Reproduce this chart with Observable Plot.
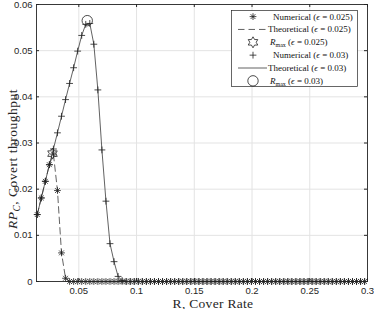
<!DOCTYPE html>
<html><head><meta charset="utf-8">
<script src="https://cdn.jsdelivr.net/npm/d3@7"></script>
<script src="https://cdn.jsdelivr.net/npm/@observablehq/plot@0.6"></script>
<style>body{margin:0;background:#fff} #chart{position:relative;width:374px;height:309px}</style>
</head><body><div id="chart"></div>
<script>
// Cover rate grid (x)
const R = [
 0.014,0.0175,0.021,0.0245,0.028,0.0315,0.035,0.0385,0.042,0.0455,
 0.049,0.0525,0.056,0.0595,0.063,0.0665,0.07,0.0735,0.077,0.0805,
 0.084,0.0875,0.091,0.0945,0.098,0.1015,0.105,0.1085,0.112,0.1155,
 0.119,0.1225,0.126,0.1295,0.133,0.1365,0.14,0.1435,0.147,0.1505,
 0.154,0.1575,0.161,0.1645,0.168,0.1715,0.175,0.1785,0.182,0.1855,
 0.189,0.1925,0.196,0.1995,0.203,0.2065,0.21,0.2135,0.217,0.2205,
 0.224,0.2275,0.231,0.2345,0.238,0.2415,0.245,0.2485,0.252,0.2555,
 0.259,0.2625,0.266,0.2695,0.273,0.2765,0.28,0.2835,0.287,0.2905,
 0.294,0.2975];
// RPc, eps = 0.025
const rpc025 = [
 0.0145,0.0181,0.0217,0.0253,0.0276,0.0197,0.0062,0.0007,
 0,0,0,0,0,0,0,0,0,0,
 0,0,0,0,0,0,0,0,0,0,
 0,0,0,0,0,0,0,0,0,0,
 0,0,0,0,0,0,0,0,0,0,
 0,0,0,0,0,0,0,0,0,0,
 0,0,0,0,0,0,0,0,0,0,
 0,0,0,0,0,0,0,0,0,0,
 0,0,0,0];
// RPc, eps = 0.03
const rpc03 = [
 0.0145,0.0181,0.0217,0.0253,0.0287,0.0322,0.0358,0.0394,0.0429,0.0463,
 0.0499,0.0533,0.0557,0.0559,0.0514,0.0415,0.0285,0.0174,0.0082,0.0043,
 0.0011,0.0002,
 0,0,0,0,0,0,0,0,0,0,
 0,0,0,0,0,0,0,0,0,0,
 0,0,0,0,0,0,0,0,0,0,
 0,0,0,0,0,0,0,0,0,0,
 0,0,0,0,0,0,0,0,0,0,
 0,0,0,0,0,0,0,0,0,0];
// Maximum points
const rmaxR = [0.0272, 0.0573];
const rmaxV = [0.0277, 0.0565];

const xTicks = [0.05, 0.1, 0.15, 0.2, 0.25, 0.3];
const xTickLabels = ["0.05", "0.1", "0.15", "0.2", "0.25", "0.3"];
const yTicks = [0, 0.01, 0.02, 0.03, 0.04, 0.05, 0.06];
const yTickLabels = ["0", "0.01", "0.02", "0.03", "0.04", "0.05", "0.06"];
const xDomain = [0.01335, 0.3];
const yDomain = [0, 0.06];

const d025 = R.map((r, i) => ({R: r, v: rpc025[i]}));
const d03 = R.map((r, i) => ({R: r, v: rpc03[i]}));
const m025 = [{R: rmaxR[0], v: rmaxV[0]}];
const m03 = [{R: rmaxR[1], v: rmaxV[1]}];

const asterisk8 = {draw(ctx, size) {
  const r = Math.sqrt(size / Math.PI), d = r * Math.SQRT1_2;
  ctx.moveTo(-r, 0); ctx.lineTo(r, 0); ctx.moveTo(0, -r); ctx.lineTo(0, r);
  ctx.moveTo(-d, -d); ctx.lineTo(d, d); ctx.moveTo(-d, d); ctx.lineTo(d, -d);
}};
const plusSym = {draw(ctx, size) {
  const r = Math.sqrt(size / Math.PI);
  ctx.moveTo(-r, 0); ctx.lineTo(r, 0); ctx.moveTo(0, -r); ctx.lineTo(0, r);
}};
const hexagram = {draw(ctx, size) {
  const r = Math.sqrt(size / Math.PI), ri = r / Math.sqrt(3);
  for (let k = 0; k < 12; k++) {
    const a = -Math.PI / 2 + k * Math.PI / 6, rr = k % 2 ? ri : r;
    const x = rr * Math.cos(a), y = rr * Math.sin(a);
    k ? ctx.lineTo(x, y) : ctx.moveTo(x, y);
  }
  ctx.closePath();
}};

const ink = "#1f1f1f";
const lineInk = "#3a3a3a";
const grid = "#e3e3e3";

const plot = Plot.plot({
  width: 374, height: 309,
  marginLeft: 36, marginRight: 7, marginTop: 4, marginBottom: 28,
  style: {fontFamily: "'Liberation Sans', Arial, sans-serif", fontSize: "9.5px", color: "#262626", background: "white"},
  x: {domain: xDomain},
  y: {domain: yDomain},
  marks: [
    Plot.gridX(xTicks, {stroke: grid, strokeOpacity: 1}),
    Plot.gridY(yTicks, {stroke: grid, strokeOpacity: 1}),
    Plot.axisX(xTicks, {tickSize: 0, tickPadding: 6, tickFormat: d => xTickLabels[xTicks.indexOf(d)], label: null}),
    Plot.axisY(yTicks, {tickSize: 0, tickPadding: 4, tickFormat: d => yTickLabels[yTicks.indexOf(d)], label: null}),
    Plot.tickX(xTicks, {x: d => d, insetTop: 274, stroke: "#262626"}),
    Plot.tickX(xTicks, {x: d => d, insetBottom: 274, stroke: "#262626"}),
    Plot.tickY(yTicks, {y: d => d, insetRight: 328, stroke: "#262626"}),
    Plot.tickY(yTicks, {y: d => d, insetLeft: 328, stroke: "#262626"}),
    Plot.line(d025, {x: "R", y: "v", stroke: lineInk, strokeWidth: 0.8, strokeDasharray: "6.5,4"}),
    Plot.line(d03, {x: "R", y: "v", stroke: lineInk, strokeWidth: 0.8}),
    Plot.dot(d025, {x: "R", y: "v", symbol: asterisk8, r: 3.4, fill: "none", stroke: ink, strokeWidth: 0.8}),
    Plot.dot(d03, {x: "R", y: "v", symbol: plusSym, r: 3.4, fill: "none", stroke: ink, strokeWidth: 0.8}),
    Plot.dot(m025, {x: "R", y: "v", symbol: hexagram, r: 5.5, fill: "none", stroke: ink, strokeWidth: 0.8}),
    Plot.dot(m03, {x: "R", y: "v", symbol: "circle", r: 5.2, fill: "none", stroke: ink, strokeWidth: 0.8}),
    Plot.frame({stroke: "#262626", strokeWidth: 0.9})
  ]
});
document.getElementById("chart").appendChild(plot);

const svg = d3.select(plot);
const serif = "'Liberation Serif', 'Times New Roman', serif";

// x label
svg.append("text").attr("x", 213).attr("y", 307.5).attr("text-anchor", "middle")
  .attr("font-family", serif).attr("font-size", 13.5).attr("letter-spacing", 0.3).attr("fill", "#262626")
  .text("R, Cover Rate");

// y label
const yl = svg.append("text").attr("transform", "translate(17,159) rotate(-90)")
  .attr("text-anchor", "middle").attr("font-family", serif).attr("font-size", 13.5)
  .attr("letter-spacing", 0.5).attr("fill", "#262626");
yl.append("tspan").attr("font-style", "italic").text("RP");
yl.append("tspan").attr("font-style", "italic").attr("font-size", 9.5).attr("dy", 3).text("C");
yl.append("tspan").attr("dy", -3).text(", Covert throughput");

// legend
const lg = svg.append("g").attr("font-family", serif).attr("font-size", 9)
  .attr("fill", "#111").attr("text-anchor", "start");
lg.append("rect").attr("x", 231.5).attr("y", 10.5).attr("width", 126).attr("height", 76)
  .attr("fill", "white").attr("stroke", "#262626").attr("stroke-width", 0.7);
const entries = [
  {kind: "sym", sym: asterisk8, r: 3.4, lab: ["Numerical (", "eps", " = 0.025)"], tx: 273},
  {kind: "line", dash: "6.5,4", lab: ["Theoretical (", "eps", " = 0.025)"], tx: 268},
  {kind: "sym", sym: hexagram, r: 5.5, lab: ["Rmax", " (", "eps", " = 0.025)"], tx: 270},
  {kind: "sym", sym: plusSym, r: 3.4, lab: ["Numerical (", "eps", " = 0.03)"], tx: 273},
  {kind: "line", dash: null, lab: ["Theoretical (", "eps", " = 0.03)"], tx: 268},
  {kind: "sym", sym: d3.symbolCircle, r: 5.2, lab: ["Rmax", " (", "eps", " = 0.03)"], tx: 270}
];
entries.forEach((e, i) => {
  const cy = 16.6 + 12.85 * i;
  if (e.kind === "line") {
    lg.append("line").attr("x1", 238).attr("x2", 267).attr("y1", cy).attr("y2", cy)
      .attr("stroke", lineInk).attr("stroke-width", 0.8).attr("stroke-dasharray", e.dash);
  } else {
    lg.append("path").attr("transform", `translate(253,${cy})`)
      .attr("d", d3.symbol(e.sym, e.r * e.r * Math.PI)())
      .attr("fill", "none").attr("stroke", ink).attr("stroke-width", 0.8);
  }
  const t = lg.append("text").attr("x", e.tx).attr("y", cy + 3).attr("text-anchor", "start");
  let shift = 0;
  e.lab.forEach(p => {
    let s;
    if (p === "eps") s = t.append("tspan").attr("font-style", "italic").text("\u03f5");
    else if (p === "Rmax") {
      t.append("tspan").attr("font-style", "italic").text("R");
      t.append("tspan").attr("font-size", 6).attr("dy", 1.8).text("max");
      shift = -1.8;
      return;
    } else s = t.append("tspan").text(p);
    if (shift) { s.attr("dy", shift); shift = 0; }
  });
});
</script></body></html>
